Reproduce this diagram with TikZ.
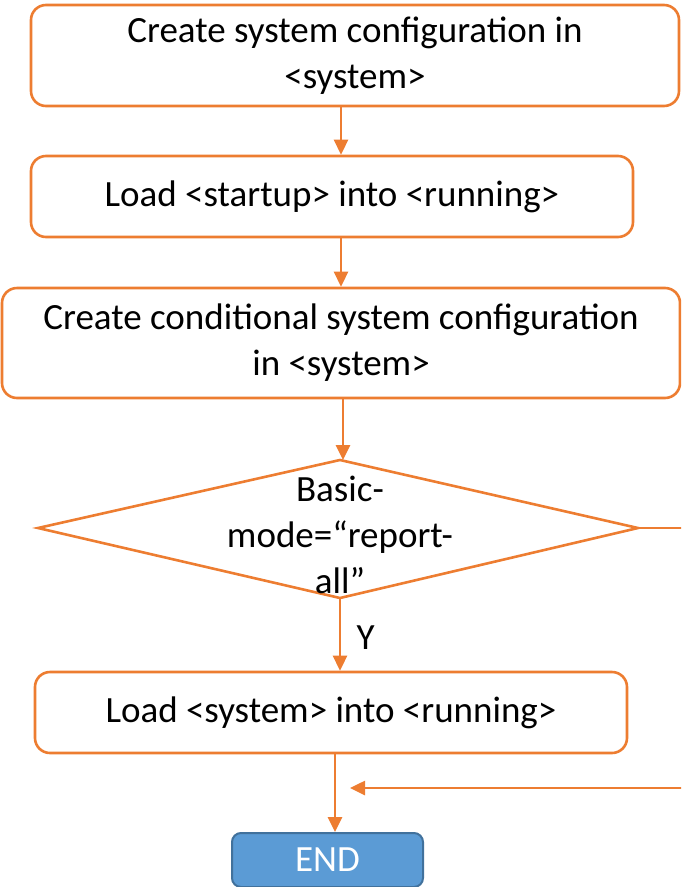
\documentclass[tikz,border=0pt]{standalone}
\usepackage{fontspec}
\setmainfont{Carlito}
\usetikzlibrary{arrows.meta,calc}
\definecolor{orng}{HTML}{ED7D31}
\definecolor{endfill}{HTML}{5B9BD5}
\definecolor{enddraw}{HTML}{41719C}
\begin{document}
\begin{tikzpicture}[x=1pt,y=-1pt,
  every node/.style={font=\fontsize{37}{46}\selectfont},
  stepbox/.style={draw=orng,line width=2.6pt,rounded corners=15pt,fill=white,align=center,inner sep=0pt},
  arr/.style={draw=orng,line width=2.6pt,-{Triangle[length=15pt,width=14pt]}},
  ln/.style={draw=orng,line width=2.6pt}]
\useasboundingbox (0,0) rectangle (681,887);
\begin{scope}
\clip (0,0) rectangle (681,887);
\node[stepbox,minimum width=648pt,minimum height=101pt] (b1) at (355,55.5) {Create system configuration in\\<system>};
\node[stepbox,minimum width=602pt,minimum height=81pt] (b2) at (332,196.5) {Load <startup> into <running>};
\node[stepbox,minimum width=678pt,minimum height=110pt] (b3) at (341,343) {Create conditional system configuration\\in <system>};
\coordinate (dt) at (340,460);
\coordinate (db) at (340,598);
\coordinate (dl) at (38,528);
\coordinate (dr) at (638,528);
\draw[ln,line join=miter] (dt) -- (dr) -- (db) -- (dl) -- cycle;
\node[align=center] (dtext) at (340,535) {Basic-\\mode=“report-\\all”};
\node[stepbox,minimum width=592pt,minimum height=81pt] (b4) at (331,712.5) {Load <system> into <running>};
\node[draw=enddraw,line width=2pt,fill=endfill,rounded corners=9pt,minimum width=191pt,minimum height=54pt,text=white,inner sep=0pt] (e) at (327.5,860) {END};
\coordinate (rightout) at (690,528);
\coordinate (rightin) at (690,788);
\coordinate (joinpt) at (350,788);
\draw[arr] (341,0 |- b1.south) -- (341,0 |- b2.north);
\draw[arr] (341,0 |- b2.south) -- (341,0 |- b3.north);
\draw[arr] (343,0 |- b3.south) -- (343,0 |- dt);
\draw[arr] (db) -- (db |- b4.north) node[pos=0.55,right=12pt] (ylab) {Y};
\draw[arr] (335,0 |- b4.south) -- (335,0 |- e.north);
\draw[ln] (dr) -- (rightout);
\draw[arr] (rightin) -- (joinpt);
\end{scope}
\end{tikzpicture}
\end{document}
